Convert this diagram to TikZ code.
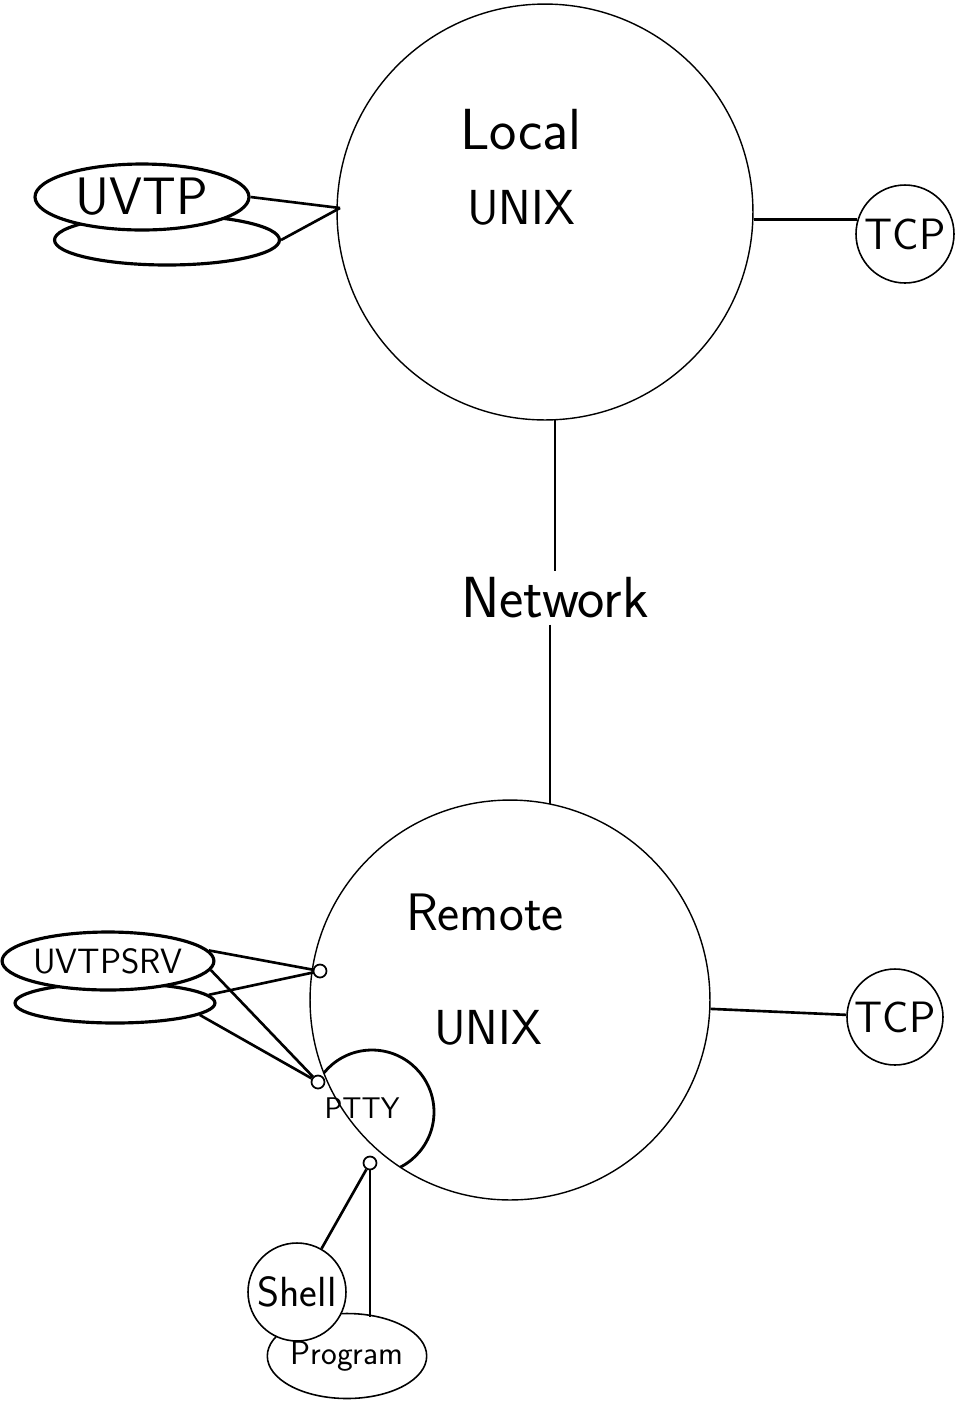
\documentclass[tikz,border=0pt]{standalone}
\usepackage{fontspec}
\usetikzlibrary{shapes.geometric}

\begin{document}
\begin{tikzpicture}[x=0.02cm,y=-0.02cm,
    host/.style={draw,circle,line width=0.8pt,inner sep=0pt},
    proc/.style={draw,ellipse,line width=1.8pt,fill=white,inner sep=0pt},
    small/.style={draw,circle,line width=0.9pt,fill=white,inner sep=0pt},
    port/.style={draw,circle,line width=1pt,fill=white,minimum size=0.26cm,inner sep=0pt},
    link/.style={draw,line width=1.5pt},
    wire/.style={draw,line width=0.8pt},
    word/.style={font=\sffamily\fontsize{#1}{#1}\selectfont},
    word/.default=30]
    \useasboundingbox (0,0) rectangle (962,1401);

    % local machine
    \node[host,minimum size=8.32cm] (local) at (545,212) {};
    \node[word=33] (localtxt) at (521,130) {Local};
    \node[word=28] (localunix) at (521,208) {UNIX};
    \node[small,minimum size=1.96cm,word=25] (tcpa) at (905,234) {TCP};
    \node[proc,minimum width=4.5cm,minimum height=1.0cm] (uvtpb) at (167,240) {};
    \node[proc,minimum width=4.28cm,minimum height=1.32cm,word=30] (uvtp) at (142,197) {UVTP};
    \coordinate (ljoin) at (340,208);

    \draw[link] (uvtp.east) -- (ljoin);
    \draw[link] (uvtpb.east) -- (ljoin);
    \draw[link] (tcpa.163) -- (tcpa.163 -| local.east);

    % network
    \node[word=33] (net) at (555,598) {Network};
    \coordinate (nettop) at (555,420);
    \coordinate (netbot) at (550,804);
    \draw[wire] (nettop) -- (net.north -| nettop);
    \draw[wire] (net.south -| netbot) -- (netbot);

    % remote machine
    \node[host,minimum size=8cm] (remote) at (510,1000) {};
    \node[word=30] (remotetxt) at (485,912) {Remote};
    \node[word=28] (remoteunix) at (488,1028) {UNIX};
    \node[small,minimum size=1.92cm,word=25] (tcpb) at (895,1017) {TCP};
    \draw[link] (remote) -- (tcpb);

    \begin{scope}
        \clip (510,1000) circle[radius=4cm];
        \node[draw,circle,line width=1.6pt,minimum size=2.48cm,inner sep=0pt] (pttyc) at (372,1112) {};
    \end{scope}
    \node[word=17] (ptty) at (362,1108) {PTTY};

    \node[proc,minimum width=4.0cm,minimum height=0.8cm] (srvb) at (115,1003) {};
    \node[proc,minimum width=3.92cm,minimum height=1.16cm,word=20] (srv) at (108,961) {UVTPSRV};

    \node[small,ellipse,minimum width=2.44cm,minimum height=1.7cm,word=19] (program) at (347,1356) {Program};
    \node[small,minimum size=1.96cm,word=24] (shell) at (297,1292) {Shell};

    \foreach [count=\i] \coord in {(320,971),(318,1082),(370,1163)}{
        \node[port] (port\i) at \coord {};
    }

    \foreach \src/\ang in {srv/6,srvb/5}{
        \draw[link] (\src.\ang) -- (port1);
    }
    \foreach \src/\ang in {srv/-5,srvb/-8}{
        \draw[link] (\src.\ang) -- (port2);
    }
    \draw[link] (port3) -- (shell);
    %\draw[link] (port3) -- (program);
    \draw[link] (port3) -- ([yshift=-0.08cm]port3 |- program.north);
\end{tikzpicture}
\end{document}
